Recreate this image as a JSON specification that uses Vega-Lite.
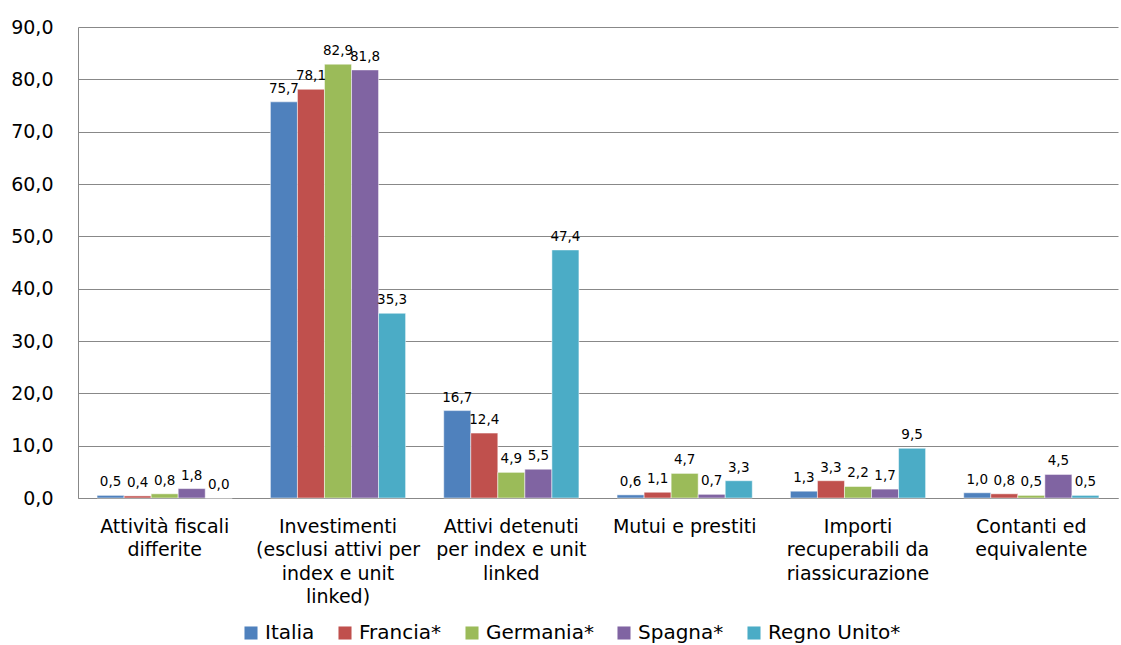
{
  "$schema": "https://vega.github.io/schema/vega-lite/v6.json",
  "width": 1040,
  "height": 471,
  "autosize": {"type": "none"},
  "padding": {"left": 78, "top": 27, "right": 3, "bottom": 147},
  "background": "white",
  "config": {
    "view": {"stroke": null},
    "font": "DejaVu Sans",
    "locale": {"number": {"decimal": ",", "thousands": ".", "grouping": [3], "currency": ["", " €"]}}
  },
  "data": {"values": [
    {"cat": "Attività fiscali|differite", "serie": "Italia", "v": 0.5},
    {"cat": "Attività fiscali|differite", "serie": "Francia*", "v": 0.4},
    {"cat": "Attività fiscali|differite", "serie": "Germania*", "v": 0.8},
    {"cat": "Attività fiscali|differite", "serie": "Spagna*", "v": 1.8},
    {"cat": "Attività fiscali|differite", "serie": "Regno Unito*", "v": 0.0},
    {"cat": "Investimenti|(esclusi attivi per|index e unit|linked)", "serie": "Italia", "v": 75.7},
    {"cat": "Investimenti|(esclusi attivi per|index e unit|linked)", "serie": "Francia*", "v": 78.1},
    {"cat": "Investimenti|(esclusi attivi per|index e unit|linked)", "serie": "Germania*", "v": 82.9},
    {"cat": "Investimenti|(esclusi attivi per|index e unit|linked)", "serie": "Spagna*", "v": 81.8},
    {"cat": "Investimenti|(esclusi attivi per|index e unit|linked)", "serie": "Regno Unito*", "v": 35.3},
    {"cat": "Attivi detenuti|per index e unit|linked", "serie": "Italia", "v": 16.7},
    {"cat": "Attivi detenuti|per index e unit|linked", "serie": "Francia*", "v": 12.4},
    {"cat": "Attivi detenuti|per index e unit|linked", "serie": "Germania*", "v": 4.9},
    {"cat": "Attivi detenuti|per index e unit|linked", "serie": "Spagna*", "v": 5.5},
    {"cat": "Attivi detenuti|per index e unit|linked", "serie": "Regno Unito*", "v": 47.4},
    {"cat": "Mutui e prestiti", "serie": "Italia", "v": 0.6},
    {"cat": "Mutui e prestiti", "serie": "Francia*", "v": 1.1},
    {"cat": "Mutui e prestiti", "serie": "Germania*", "v": 4.7},
    {"cat": "Mutui e prestiti", "serie": "Spagna*", "v": 0.7},
    {"cat": "Mutui e prestiti", "serie": "Regno Unito*", "v": 3.3},
    {"cat": "Importi|recuperabili da|riassicurazione", "serie": "Italia", "v": 1.3},
    {"cat": "Importi|recuperabili da|riassicurazione", "serie": "Francia*", "v": 3.3},
    {"cat": "Importi|recuperabili da|riassicurazione", "serie": "Germania*", "v": 2.2},
    {"cat": "Importi|recuperabili da|riassicurazione", "serie": "Spagna*", "v": 1.7},
    {"cat": "Importi|recuperabili da|riassicurazione", "serie": "Regno Unito*", "v": 9.5},
    {"cat": "Contanti ed|equivalente", "serie": "Italia", "v": 1.0},
    {"cat": "Contanti ed|equivalente", "serie": "Francia*", "v": 0.8},
    {"cat": "Contanti ed|equivalente", "serie": "Germania*", "v": 0.5},
    {"cat": "Contanti ed|equivalente", "serie": "Spagna*", "v": 4.5},
    {"cat": "Contanti ed|equivalente", "serie": "Regno Unito*", "v": 0.5}
  ]},
  "encoding": {
    "x": {
      "field": "cat", "type": "nominal", "sort": null,
      "scale": {"paddingInner": 0.22, "paddingOuter": 0.11},
      "axis": {
        "title": null, "labelAngle": 0, "labelExpr": "split(datum.label, '|')",
        "labelFontSize": 19, "labelColor": "#000", "labelPadding": 19,
        "labelLineHeight": 23.5, "ticks": false, "domainColor": "#888", "labelBaseline": "top"
      }
    },
    "xOffset": {"field": "serie", "type": "nominal", "sort": ["Italia", "Francia*", "Germania*", "Spagna*", "Regno Unito*"]},
    "y": {
      "field": "v", "type": "quantitative",
      "scale": {"domain": [0, 90], "nice": false},
      "axis": {
        "title": null, "values": [0, 10, 20, 30, 40, 50, 60, 70, 80, 90],
        "format": ".1f",
        "labelFontSize": 19, "labelColor": "#000", "labelPadding": 25,
        "ticks": false, "gridColor": "#888", "domainColor": "#888"
      }
    }
  },
  "layer": [
    {
      "mark": {"type": "bar", "stroke": "white", "strokeWidth": 0.5},
      "encoding": {
        "color": {
          "field": "serie", "type": "nominal",
          "sort": ["Italia", "Francia*", "Germania*", "Spagna*", "Regno Unito*"],
          "scale": {"domain": ["Italia", "Francia*", "Germania*", "Spagna*", "Regno Unito*"],
                    "range": ["#4F81BD", "#C0504D", "#9BBB59", "#8064A2", "#4BACC6"]},
          "legend": {
            "orient": "none", "legendX": 163, "legendY": 596, "direction": "horizontal", "title": null,
            "symbolType": "square", "symbolSize": 170, "symbolStrokeWidth": 0, "padding": 0,
            "labelFontSize": 20, "labelColor": "#000", "columnPadding": 20,
            "labelOffset": 4
          }
        }
      }
    },
    {
      "mark": {"type": "text", "baseline": "bottom", "dy": -6, "fontSize": 13.5, "color": "#000"},
      "encoding": {
        "text": {"field": "v", "type": "quantitative", "format": ".1f"},
        "detail": {"field": "serie"}
      }
    }
  ]
}
